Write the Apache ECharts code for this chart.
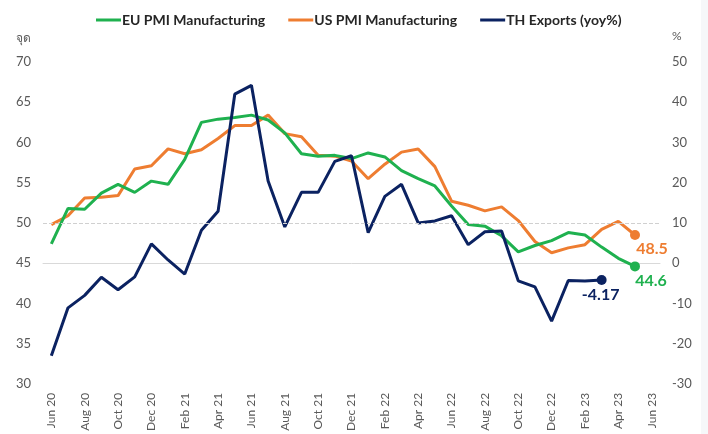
<!DOCTYPE html>
<html>
<head>
<meta charset="utf-8">
<script src="https://cdn.jsdelivr.net/npm/echarts@6/dist/echarts.min.js"></script>
<style>
  html, body { margin: 0; padding: 0; background: #fff; }
  #chart { width: 708px; height: 434px; }
</style>
</head>
<body>
<div id="chart"></div>
<script>
const months = [
  'Jun 20', 'Jul 20', 'Aug 20', 'Sep 20', 'Oct 20', 'Nov 20', 'Dec 20',
  'Jan 21', 'Feb 21', 'Mar 21', 'Apr 21', 'May 21', 'Jun 21', 'Jul 21', 'Aug 21', 'Sep 21', 'Oct 21', 'Nov 21', 'Dec 21',
  'Jan 22', 'Feb 22', 'Mar 22', 'Apr 22', 'May 22', 'Jun 22', 'Jul 22', 'Aug 22', 'Sep 22', 'Oct 22', 'Nov 22', 'Dec 22',
  'Jan 23', 'Feb 23', 'Mar 23', 'Apr 23', 'May 23', 'Jun 23'
];

// EU PMI Manufacturing (left axis, points)
const euPmi = [
  47.4, 51.8, 51.7, 53.7, 54.8, 53.8, 55.2,
  54.8, 57.9, 62.5, 62.9, 63.1, 63.4, 62.8, 61.2, 58.6, 58.3, 58.4, 58.0,
  58.7, 58.2, 56.5, 55.5, 54.6, 52.1, 49.8, 49.6, 48.4, 46.4, 47.2, 47.8,
  48.8, 48.5, 47.0, 45.6, 44.6
];

// US PMI Manufacturing (left axis, points)
const usPmi = [
  49.8, 50.9, 53.1, 53.2, 53.4, 56.7, 57.1,
  59.2, 58.6, 59.1, 60.5, 62.1, 62.1, 63.4, 61.1, 60.7, 58.4, 58.3, 57.7,
  55.5, 57.3, 58.8, 59.2, 57.0, 52.7, 52.2, 51.5, 52.0, 50.3, 47.7, 46.3,
  46.9, 47.3, 49.2, 50.2, 48.5
];

// TH Exports yoy % (right axis)
const thExports = [
  -23.0, -11.1, -8.0, -3.5, -6.6, -3.4, 4.8,
  0.8, -2.7, 8.2, 12.9, 42.0, 44.2, 20.4, 9.0, 17.6, 17.6, 25.3, 26.7,
  7.6, 16.6, 19.6, 10.0, 10.5, 11.8, 4.6, 7.8, 8.0, -4.4,
  -5.9, -14.4, -4.3, -4.4, -4.17
];

const GREEN = '#1FB14F';
const ORANGE = '#EE7D31';
const NAVY = '#0B2261';
const FONT = 'Lato';

// last point gets a dot and a value label
const withEndLabel = (arr, color, offset) => arr.map((v, i) => {
  if (i !== arr.length - 1) return v;
  return {
    value: v,
    symbol: 'circle',
    symbolSize: 10,
    itemStyle: { color: color },
    label: {
      show: true,
      position: 'bottom',
      offset: offset,
      color: color,
      fontFamily: FONT,
      fontWeight: 'bold',
      fontSize: 16,
      formatter: String(v)
    }
  };
});

const chart = echarts.init(document.getElementById('chart'));

const option = {
  backgroundColor: '#fff',
  animation: false,
  textStyle: { fontFamily: FONT },
  legend: {
    top: 8,
    left: 91,
    itemWidth: 25,
    itemHeight: 3,
    itemGap: 23,
    icon: 'rect',
    textStyle: { fontFamily: FONT, fontWeight: 'bold', fontSize: 14, color: '#262626', padding: [0, 0, 0, -4] },
    data: ['EU PMI Manufacturing', 'US PMI Manufacturing', 'TH Exports (yoy%)']
  },
  grid: { left: 43, right: 48, top: 62, bottom: 50 },
  graphic: [
    { type: 'rect', right: 0, top: 0, shape: { width: 7, height: 434 }, style: { fill: '#F6F7F9' } }
  ],
  xAxis: {
    type: 'category',
    data: months,
    boundaryGap: true,
    axisLine: { lineStyle: { color: '#D9D9D9', width: 1 } },
    axisTick: { interval: 1, length: 6, lineStyle: { color: '#D9D9D9' } },
    axisLabel: { interval: 1, rotate: 90, margin: 9, fontSize: 12, color: '#595959', fontFamily: FONT },
    splitLine: { show: false }
  },
  yAxis: [
    {
      type: 'value',
      min: 30,
      max: 70,
      interval: 5,
      name: 'จุด',
      nameLocation: 'end',
      nameGap: 18,
      nameTextStyle: { align: 'right', padding: [0, 12, 0, 0], fontSize: 12, color: '#595959', fontFamily: FONT },
      axisLine: { show: false },
      axisTick: { show: false },
      axisLabel: { fontSize: 13, color: '#595959', margin: 12, fontFamily: FONT },
      splitLine: { show: false }
    },
    {
      type: 'value',
      min: -30,
      max: 50,
      interval: 10,
      name: '%',
      nameLocation: 'end',
      nameGap: 20,
      nameTextStyle: { align: 'left', padding: [0, 0, 0, 12], fontSize: 12, color: '#595959', fontFamily: FONT },
      axisLine: { show: false },
      axisTick: { show: false },
      axisLabel: { fontSize: 13, color: '#595959', margin: 12, fontFamily: FONT },
      splitLine: { show: false }
    }
  ],
  series: [
    {
      name: 'EU PMI Manufacturing',
      type: 'line',
      yAxisIndex: 0,
      data: withEndLabel(euPmi, GREEN, [16, -4]),
      symbol: 'none',
      showAllSymbol: true,
      lineStyle: { color: GREEN, width: 3 },
      itemStyle: { color: GREEN },
      z: 3,
      markLine: {
        silent: true,
        symbol: 'none',
        label: { show: false },
        lineStyle: { color: '#D0D0D0', type: 'dashed', width: 1 },
        data: [{ yAxis: 50 }]
      }
    },
    {
      name: 'US PMI Manufacturing',
      type: 'line',
      yAxisIndex: 0,
      data: withEndLabel(usPmi, ORANGE, [17, -4]),
      symbol: 'none',
      showAllSymbol: true,
      lineStyle: { color: ORANGE, width: 3 },
      itemStyle: { color: ORANGE },
      z: 2
    },
    {
      name: 'TH Exports (yoy%)',
      type: 'line',
      yAxisIndex: 1,
      data: withEndLabel(thExports, NAVY, [-1, -3]),
      symbol: 'none',
      showAllSymbol: true,
      lineStyle: { color: NAVY, width: 3 },
      itemStyle: { color: NAVY },
      z: 4
    }
  ]
};

chart.setOption(option);
</script>
</body>
</html>
